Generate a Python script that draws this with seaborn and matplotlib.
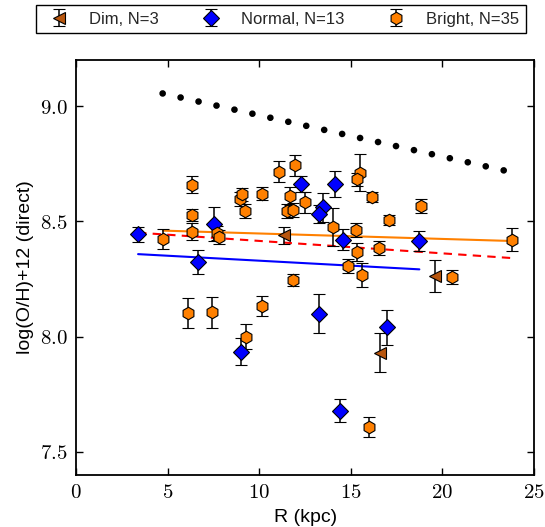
import matplotlib
matplotlib.use("Agg")
import matplotlib.pyplot as plt
import seaborn as sns

# ---- Data: galactocentric radius (kpc) and direct-method abundance ----
dim_r = [11.35, 19.60, 16.59]
dim_oh = [8.440, 8.262, 7.930]
dim_err = [0.036, 0.070, 0.085]

normal_r = [3.38, 6.67, 7.53, 9.00, 12.26, 14.13, 13.50, 13.28, 14.59, 18.74, 13.26, 16.99, 14.41]
normal_oh = [8.444, 8.323, 8.490, 7.935, 8.663, 8.663, 8.562, 8.531, 8.420, 8.415, 8.100, 8.040, 7.678]
normal_err = [0.033, 0.053, 0.074, 0.060, 0.035, 0.055, 0.063, 0.040, 0.046, 0.045, 0.083, 0.074, 0.050]

bright_r = [4.74, 6.31, 6.31, 6.31, 6.12, 7.43, 7.70, 7.80, 8.95, 9.04, 9.22, 9.27,
            10.13, 10.13, 11.09, 11.95, 11.68, 11.50, 11.82, 11.82, 12.50, 15.50,
            15.32, 16.14, 18.83, 17.10, 14.01, 15.28, 15.35, 16.55, 14.83, 15.62,
            20.50, 23.78, 16.01]
bright_oh = [8.422, 8.660, 8.527, 8.456, 8.103, 8.106, 8.448, 8.434, 8.596, 8.617, 8.545, 8.000,
             8.621, 8.133, 8.716, 8.744, 8.610, 8.545, 8.549, 8.246, 8.583, 8.711,
             8.682, 8.606, 8.567, 8.506, 8.475, 8.463, 8.368, 8.386, 8.308, 8.267,
             8.259, 8.420, 7.609]
bright_err = [0.043, 0.036, 0.025, 0.038, 0.064, 0.067, 0.030, 0.030, 0.030, 0.030, 0.030, 0.054,
              0.030, 0.043, 0.045, 0.045, 0.040, 0.030, 0.030, 0.025, 0.045, 0.080,
              0.030, 0.020, 0.030, 0.020, 0.083, 0.030, 0.040, 0.030, 0.030, 0.051,
              0.030, 0.050, 0.043]

# Linear gradient fits (end points at the radial extent of each sample)
normal_fit_r = [3.38, 18.74]
normal_fit_oh = [8.358, 8.292]
bright_fit_r = [4.74, 23.78]
bright_fit_oh = [8.460, 8.415]
all_fit_r = [3.38, 23.78]
all_fit_oh = [8.451, 8.341]

# Reference gradient
model_r = [4.72, 23.42]
model_oh = [9.055, 8.720]

legend_labels = ["Dim, N=3", "Normal, N=13", "Bright, N=35"]
x_ticks = [0, 5, 10, 15, 20, 25]
x_tick_labels = ["$0$", "$5$", "$10$", "$15$", "$20$", "$25$"]
y_ticks = [7.5, 8.0, 8.5, 9.0]
y_tick_labels = ["$7.5$", "$8.0$", "$8.5$", "$9.0$"]

# ---- Style ----
sns.set_theme(style="ticks")
plt.rcParams["font.family"] = ["Liberation Sans", "DejaVu Sans"]
plt.rcParams["mathtext.fontset"] = "cm"
plt.rcParams["xtick.direction"] = "in"
plt.rcParams["ytick.direction"] = "in"

ORANGE = "#ff8000"
BLUE = "#0000ff"
BROWN = "#b8560e"

fig = plt.figure(figsize=(5.45, 5.27), dpi=100)
ax = fig.add_axes([0.1398, 0.0987, 0.9798 - 0.1398, 0.8861 - 0.0987])

# reference gradient drawn as a line of round dots
sns.lineplot(x=model_r, y=model_oh, ax=ax, color="black", lw=4.8,
             linestyle=(0, (0.01, 2.75)), dash_capstyle="round",
             legend=False, zorder=1)

# fitted gradients
sns.lineplot(x=bright_fit_r, y=bright_fit_oh, ax=ax, color=ORANGE, lw=1.5,
             legend=False, zorder=1)
sns.lineplot(x=normal_fit_r, y=normal_fit_oh, ax=ax, color=BLUE, lw=1.5,
             legend=False, zorder=1)
sns.lineplot(x=all_fit_r, y=all_fit_oh, ax=ax, color="red", lw=1.5,
             linestyle=(0, (4.0, 3.0)), legend=False, zorder=1)

err_kw = dict(ecolor="black", elinewidth=1.1, capsize=4, capthick=1.1,
              linestyle="none", markeredgecolor="black", markeredgewidth=0.8)

h_dim = ax.errorbar(dim_r, dim_oh, yerr=dim_err, fmt="<", color=BROWN,
                    markersize=8.5, **err_kw)
h_norm = ax.errorbar(normal_r, normal_oh, yerr=normal_err, fmt="D", color=BLUE,
                     markersize=8.3, **err_kw)
h_bright = ax.errorbar(bright_r, bright_oh, yerr=bright_err, fmt="h", color=ORANGE,
                       markersize=9, **err_kw)

ax.set_xlim(0, 25)
ax.set_ylim(7.4, 9.2)
ax.set_xticks(x_ticks)
ax.set_xticklabels(x_tick_labels)
ax.set_yticks(y_ticks)
ax.set_yticklabels(y_tick_labels)
ax.minorticks_off()
ax.tick_params(axis="both", which="major", direction="in", top=True, right=True,
               length=5, width=1.0, labelsize=15, pad=6, color="black",
               labelcolor="black")
for sp in ax.spines.values():
    sp.set_visible(True)
    sp.set_linewidth(1.3)
    sp.set_color("black")

ax.set_xlabel("R (kpc)", fontsize=14, labelpad=5, color="black")
ax.set_ylabel("log(O/H)+12 (direct)", fontsize=14, labelpad=4, color="black")

leg = fig.legend([h_dim, h_norm, h_bright], legend_labels,
                 loc="upper left", bbox_to_anchor=(36 / 545, 1 - 5 / 527),
                 bbox_transform=fig.transFigure, borderaxespad=0, ncol=3,
                 fancybox=False, framealpha=1, edgecolor="black", fontsize=12,
                 handlelength=2.0, handletextpad=0.8, columnspacing=2.1,
                 borderpad=0.4, numpoints=1)
leg.get_frame().set_linewidth(1.0)

fig.savefig("out.png", dpi=100)
